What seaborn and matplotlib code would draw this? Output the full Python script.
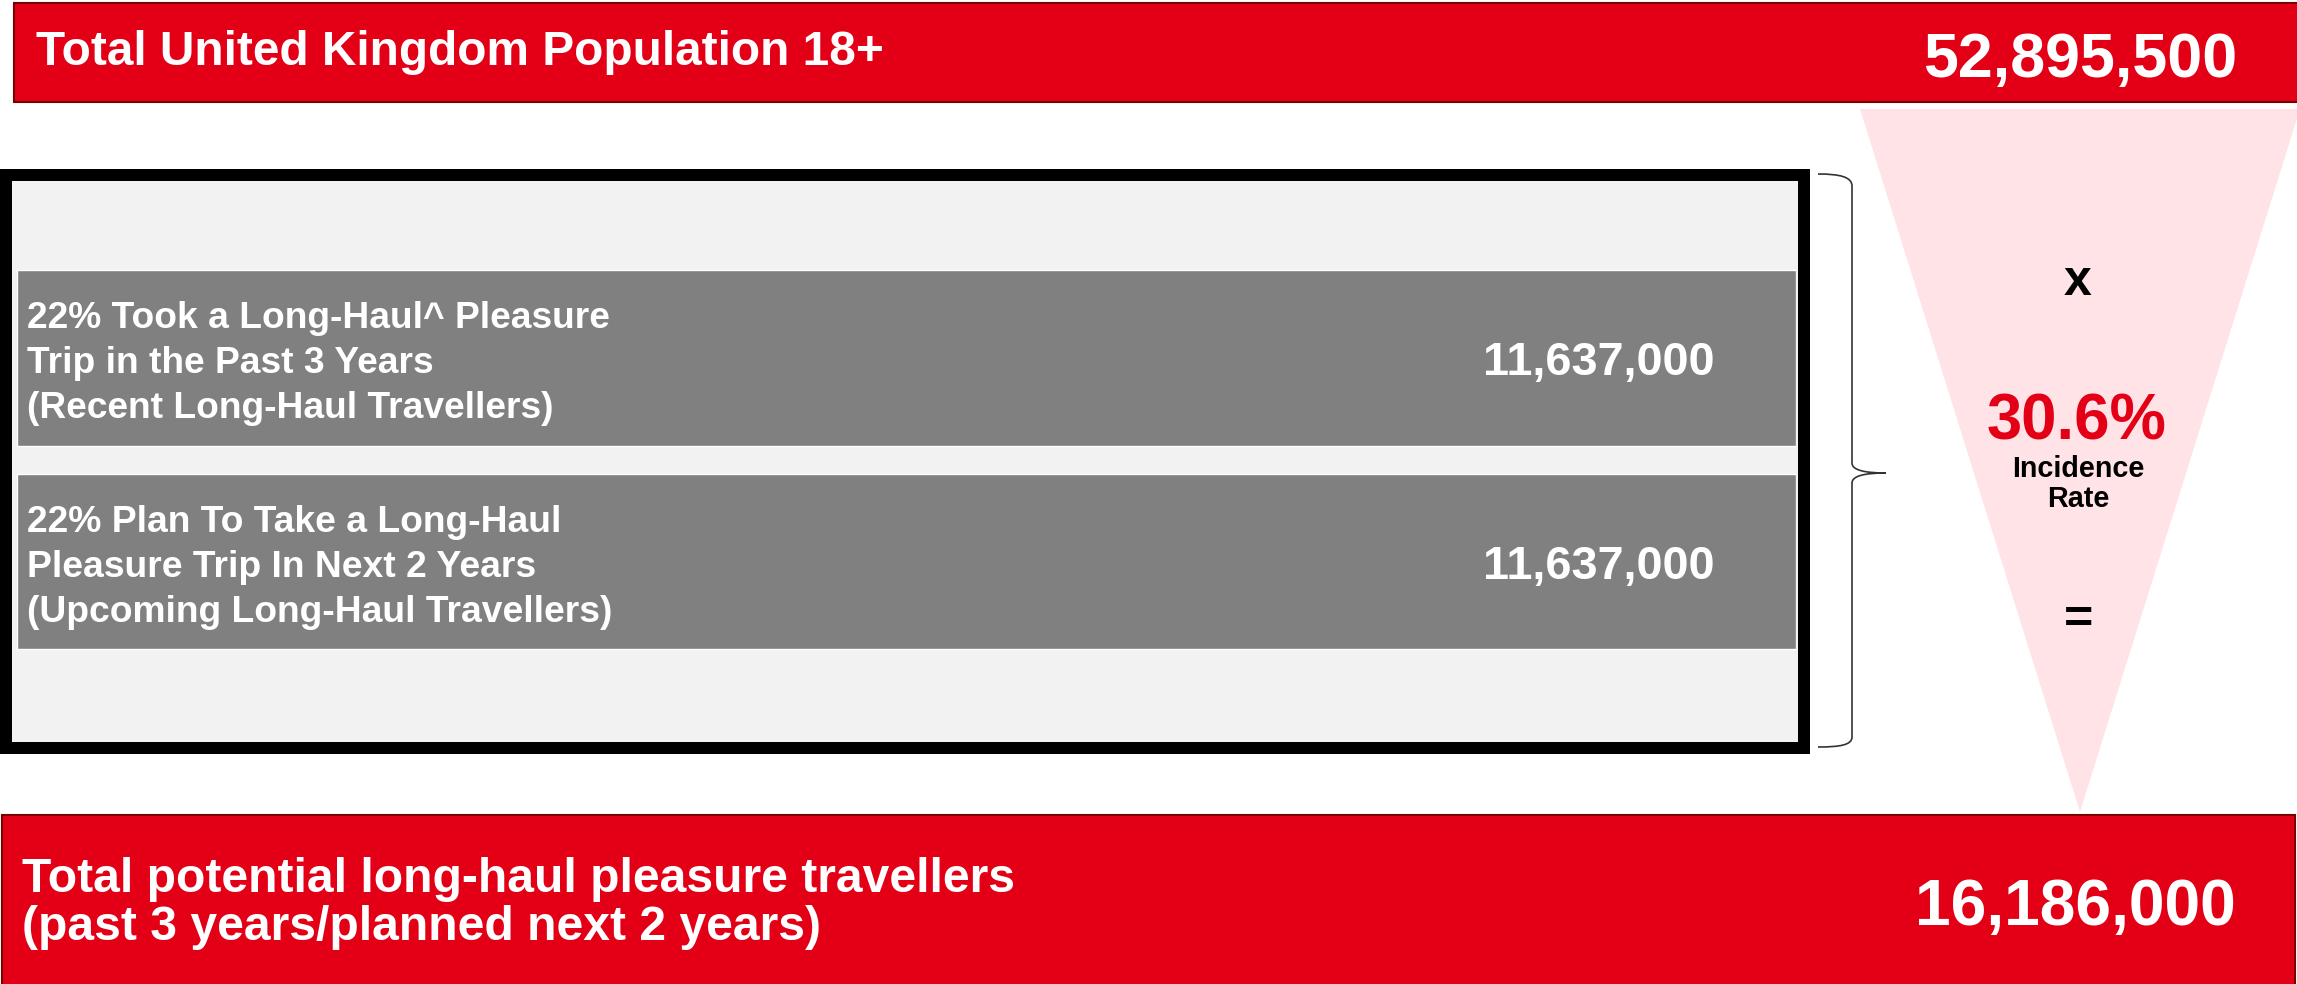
import matplotlib
matplotlib.use("Agg")
import matplotlib.pyplot as plt
from matplotlib.patches import Rectangle, Polygon, PathPatch
from matplotlib.path import Path
import seaborn as sns
import pandas as pd

# data
total_label = "Total United Kingdom Population 18+"
total_value = 52895500
segment_names = ["Recent", "Upcoming"]
segment_lines = [
    ["22% Took a Long-Haul^ Pleasure", "Trip in the Past 3 Years", "(Recent Long-Haul Travellers)"],
    ["22% Plan To Take a Long-Haul", "Pleasure Trip In Next 2 Years", "(Upcoming Long-Haul Travellers)"],
]
segment_values = [11637000, 11637000]
incidence_rate = 30.6
result_lines = ["Total potential long-haul pleasure travellers", "(past 3 years/planned next 2 years)"]
result_value = 16186000

RED = "#E30016"
EDGE = "#7A0000"
PINK = "#FFE3E6"
W, H = 2297, 984

sns.set_theme(style="white")
plt.rcParams['font.family'] = ['Liberation Sans', 'DejaVu Sans']
plt.rcParams['font.weight'] = 'bold'

fig = plt.figure(figsize=(W / 100, H / 100), dpi=100)
fig.patch.set_facecolor("white")

# background shapes, pixel coordinates
ax = fig.add_axes([0, 0, 1, 1], zorder=0)
ax.set_xlim(0, W)
ax.set_ylim(H, 0)
ax.axis("off")

ax.add_patch(Rectangle((14, 3), 2300, 99, facecolor=RED, edgecolor=EDGE, lw=1.5))
ax.add_patch(Rectangle((2, 815), 2293, 170, facecolor=RED, edgecolor=EDGE, lw=1.5))
ax.add_patch(Polygon([(1860, 109), (2300, 109), (2080, 812)], closed=True,
                     facecolor=PINK, edgecolor="none"))
ax.add_patch(Rectangle((6, 174.5), 1798, 573, facecolor="#F2F2F2", edgecolor="black",
                       lw=8.64, joinstyle="miter"))

# curly brace
bx = 1852
verts = [(1818, 174), (1840, 174), (bx, 177), (bx, 186),
         (bx, 463),
         (bx, 470), (bx + 12, 473), (1886, 473),
         (bx + 12, 473), (bx, 476), (bx, 483),
         (bx, 737),
         (bx, 745), (1840, 747), (1818, 747)]
codes = [Path.MOVETO, Path.CURVE4, Path.CURVE4, Path.CURVE4,
         Path.LINETO,
         Path.CURVE4, Path.CURVE4, Path.CURVE4,
         Path.CURVE4, Path.CURVE4, Path.CURVE4,
         Path.LINETO,
         Path.CURVE4, Path.CURVE4, Path.CURVE4]
ax.add_patch(PathPatch(Path(verts, codes), facecolor="none", edgecolor="#333333", lw=1.2))

# the two segment bars through seaborn
seg = pd.DataFrame({"segment": segment_names, "travellers": segment_values})
slot = 203.5
bax = fig.add_axes([17 / W, 1 - (358 - slot / 2 + 2 * slot) / H, 1779 / W, 2 * slot / H], zorder=1)
sns.barplot(data=seg, x="travellers", y="segment", orient="h", color="#808080",
            saturation=1, width=0.864, errorbar=None, ax=bax)
bax.set_xlim(0, max(segment_values))
bax.set_ylim(1.5, -0.5)
bax.axis("off")

# text layer
tax = fig.add_axes([0, 0, 1, 1], zorder=3)
tax.set_xlim(0, W)
tax.set_ylim(H, 0)
tax.axis("off")

renderer = fig.canvas.get_renderer()


def fit(texts, target, ref=0):
    w = texts[ref].get_window_extent(renderer).width
    for t in texts:
        t.set_fontsize(t.get_fontsize() * target / w)


t = tax.text(36, 65, total_label, color="white", fontsize=32, va="baseline")
fit([t], 849)
t = tax.text(2237, 77, f"{total_value:,}", color="white", fontsize=45, ha="right", va="baseline")
fit([t], 314)

for i, lines in enumerate(segment_lines):
    dy = 204 * i
    ts = [tax.text(27, b + dy, s, color="white", fontsize=26, va="baseline")
          for s, b in zip(lines, [328, 373, 418])]
    fit(ts, 581 if i == 0 else 585, ref=0 if i == 0 else 2)
    t = tax.text(1715, 375 + dy, f"{segment_values[i]:,}", color="white", fontsize=33,
                 ha="right", va="baseline")
    fit([t], 232)

t = tax.text(2078, 295, "x", color="black", fontsize=36, ha="center", va="baseline")
t = tax.text(2077, 440, f"{incidence_rate}%", color=RED, fontsize=47, ha="center", va="baseline")
fit([t], 180)
ts = [tax.text(2078, 477, "Incidence", color="black", fontsize=20, ha="center", va="baseline"),
      tax.text(2078, 507, "Rate", color="black", fontsize=20, ha="center", va="baseline")]
fit(ts, 133)
tax.text(2078, 634, "=", color="black", fontsize=36, ha="center", va="baseline")

ts = [tax.text(22, b, s, color="white", fontsize=35, va="baseline")
      for s, b in zip(result_lines, [892, 940])]
fit(ts, 991)
t = tax.text(2236, 925, f"{result_value:,}", color="white", fontsize=47, ha="right", va="baseline")
fit([t], 321)

fig.savefig("out.png", dpi=100)
